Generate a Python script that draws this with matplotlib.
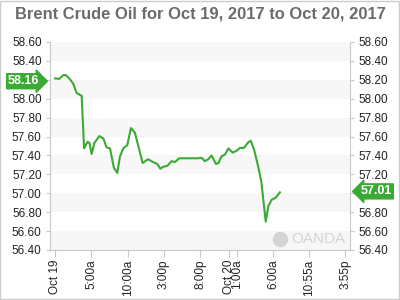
import matplotlib
matplotlib.use("Agg")
import matplotlib.pyplot as plt
import matplotlib.transforms as mtransforms
from matplotlib.patches import Rectangle

# ---- data (hours since Oct 19 00:00) ----
hours = [0.0, 0.6, 1.15, 1.5, 2.06, 2.5, 2.98, 3.67, 4.0, 4.3, 4.5, 4.75, 5.04, 5.4, 6.1, 6.65,
         7.1, 7.57, 8.1, 8.57, 8.94, 9.4, 9.95, 10.45, 11.0, 11.6, 12.06, 12.8, 13.5, 14.07,
         14.5, 14.9, 15.45, 16.05, 16.5, 17.1, 19.7, 20.2, 20.6, 21.1, 21.55, 22.15, 22.5,
         22.9, 23.4, 23.85, 24.45, 25.0, 25.45, 26.0, 26.6, 26.95, 27.4, 27.97, 28.4, 29.0,
         29.35, 29.8, 30.4, 30.95]
prices = [58.215, 58.21, 58.25, 58.25, 58.205, 58.16, 58.06, 58.03, 57.475, 57.52, 57.545, 57.53,
          57.415, 57.53, 57.605, 57.58, 57.485, 57.475, 57.27, 57.215, 57.39, 57.475, 57.51,
          57.69, 57.64, 57.46, 57.32, 57.36, 57.33, 57.31, 57.26, 57.28, 57.29, 57.34, 57.33,
          57.37, 57.37, 57.375, 57.34, 57.36, 57.40, 57.31, 57.32, 57.39, 57.41, 57.475, 57.43,
          57.45, 57.48, 57.48, 57.54, 57.555, 57.46, 57.28, 57.12, 56.70, 56.86, 56.93, 56.955,
          57.01]

xtick_pos = [0, 5, 10, 15, 20, 24, 25, 30, 34.92, 39.92]
xtick_labels = ["Oct 19", "5:00a", "10:00a", "3:00p", "8:00p", "Oct 20", "1:00a", "6:00a",
                "10:55a", "3:55p"]
ytick_vals = [56.40, 56.60, 56.80, 57.00, 57.20, 57.40, 57.60, 57.80, 58.00, 58.20, 58.40, 58.60]
open_label = "58.16"
last_label = "57.01"
title = "Brent Crude Oil for Oct 19, 2017 to Oct 20, 2017"

GREEN = "#3aaa35"
plt.rcParams['font.family'] = ['Liberation Sans', 'DejaVu Sans']

fig = plt.figure(figsize=(4, 3), dpi=100)
fig.patch.set_facecolor("white")
ax = fig.add_axes([0.125, 1 - 250 / 300, 0.75, 208 / 300])

ax.set_xlim(-0.69, 40.6)
ax.set_ylim(56.4, 58.6)

# alternating bands
for i in range(len(ytick_vals) - 1):
    if i % 2 == 0:
        ax.axhspan(ytick_vals[i], ytick_vals[i + 1], color="#f7f7f7", lw=0, zorder=0)

ax.plot(hours, prices, color=GREEN, lw=1.5, zorder=3, solid_joinstyle="round")

ax.set_yticks(ytick_vals)
ax.set_yticklabels([f"{v:.2f}" for v in ytick_vals])
ax.set_xticks(xtick_pos)
ax.set_xticklabels(xtick_labels, rotation=90)

ax.tick_params(axis="y", which="both", left=True, right=True, labelleft=True, labelright=True,
               length=3, width=0.8, color="#c8c8c8", labelsize=8.5, labelcolor="#222222", pad=3)
ax.tick_params(axis="x", length=5, width=0.8, color="#c8c8c8", labelsize=8.5,
               labelcolor="#222222", pad=2)

for side in ["left", "right", "bottom"]:
    ax.spines[side].set_color("#c8c8c8")
    ax.spines[side].set_linewidth(0.8)
ax.spines["top"].set_visible(False)

# price labels
trans_l = mtransforms.blended_transform_factory(ax.transAxes, ax.transData)
ax.text(-0.035, prices[0] - 0.03, open_label, transform=trans_l, ha="right", va="center",
        fontsize=9, fontweight="bold", color="white",
        bbox=dict(boxstyle="rarrow,pad=0.12", fc=GREEN, ec=GREEN), zorder=5, clip_on=False)
ax.text(1.035, prices[-1] + 0.01, last_label, transform=trans_l, ha="left", va="center",
        fontsize=9, fontweight="bold", color="white",
        bbox=dict(boxstyle="larrow,pad=0.12", fc=GREEN, ec=GREEN), zorder=5, clip_on=False)

# watermark
ax.text(0.985, 0.055, "OANDA", transform=ax.transAxes, ha="right", va="center",
        fontsize=11, color="#d4d4d4", zorder=2)
ax.plot([0.765], [0.055], transform=ax.transAxes, marker="o", ms=10, color="#d4d4d4",
        zorder=2, clip_on=False)

fig.text(0.5, 1 - 14 / 300, title, ha="center", va="center", fontsize=11.9,
         color="#6b6b6b", fontweight="bold")

fig.patches.append(Rectangle((0.001, 0.002), 0.996, 0.996, transform=fig.transFigure,
                             fill=False, ec="#cccccc", lw=1))

fig.savefig("out.png", dpi=100)
